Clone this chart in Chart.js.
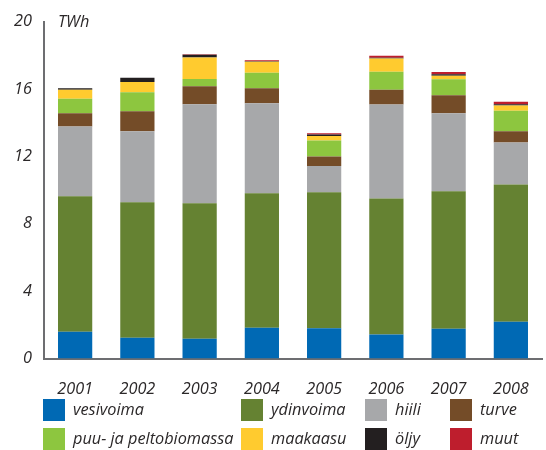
<!DOCTYPE html>
<html>
<head>
<meta charset="utf-8">
<script src="https://cdn.jsdelivr.net/npm/chart.js@4"></script>
<style>
  html, body { margin: 0; padding: 0; background: #fff; }
  #wrap { width: 546px; height: 450px; position: relative; }
</style>
</head>
<body>
<div id="wrap"><canvas id="energy-chart" width="546" height="450"></canvas></div>
<script>
// Chart data
const years = ['2001', '2002', '2003', '2004', '2005', '2006', '2007', '2008'];
const yTicks = [0, 4, 8, 12, 16, 20];
const unitLabel = 'TWh';

const seriesNames = ['vesivoima', 'ydinvoima', 'hiili', 'turve', 'puu- ja peltobiomassa', 'maakaasu', 'öljy', 'muut'];
const seriesColors = ['#0069b4', '#658232', '#a7a8aa', '#744c28', '#8dc63f', '#ffcb2f', '#231f20', '#be1e2d'];

const vesivoima = [1.59, 1.23, 1.17, 1.82, 1.79, 1.43, 1.76, 2.18];
const ydinvoima = [8.04, 8.05, 8.05, 7.99, 8.08, 8.08, 8.17, 8.16];
const hiili     = [4.15, 4.22, 5.88, 5.35, 1.56, 5.57, 4.64, 2.49];
const turve     = [0.79, 1.19, 1.07, 0.89, 0.57, 0.89, 1.06, 0.67];
const biomassa  = [0.86, 1.12, 0.43, 0.92, 0.95, 1.06, 0.95, 1.22];
const maakaasu  = [0.54, 0.61, 1.28, 0.65, 0.27, 0.79, 0.21, 0.30];
const oljy      = [0.08, 0.26, 0.16, 0.04, 0.08, 0.04, 0.09, 0.08];
const muut      = [0.00, 0.00, 0.03, 0.06, 0.08, 0.12, 0.13, 0.15];

const seriesValues = [vesivoima, ydinvoima, hiili, turve, biomassa, maakaasu, oljy, muut];

const fontFamily = '"Open Sans", "Noto Sans", sans-serif';
const fontSize = 16.3;
const textColor = '#2b2829';
const axisColor = '#6d6e71';

// Legend drawn below the axis, in four columns
const legendColumns = [43, 241, 365, 450];
const legendRows = [399, 428];

const legendPlugin = {
    id: 'gridLegend',
    afterDraw(chart) {
        const ctx = chart.ctx;
        ctx.save();
        ctx.font = 'italic ' + fontSize + 'px ' + fontFamily;
        ctx.textBaseline = 'middle';
        seriesNames.forEach((name, i) => {
            const x = legendColumns[i % 4];
            const y = legendRows[Math.floor(i / 4)];
            ctx.fillStyle = seriesColors[i];
            ctx.fillRect(x, y, 22, 22);
            ctx.fillStyle = textColor;
            ctx.fillText(name, x + 30, y + 11);
        });
        // unit label beside the top of the axis
        ctx.fillText(unitLabel, 58, chart.scales.y.getPixelForValue(20) + 1);
        ctx.restore();
    }
};

new Chart(document.getElementById('energy-chart'), {
    type: 'bar',
    data: {
        labels: years,
        datasets: seriesNames.map((name, i) => ({
            label: name,
            data: seriesValues[i],
            backgroundColor: seriesColors[i],
            borderWidth: 0,
            barPercentage: 0.55,
            categoryPercentage: 1
        }))
    },
    options: {
        responsive: false,
        animation: false,
        layout: { padding: { top: 20, right: 4, bottom: 0, left: 0 } },
        plugins: {
            legend: { display: false },
            tooltip: { enabled: false }
        },
        scales: {
            x: {
                stacked: true,
                grid: { display: false },
                border: { color: axisColor, width: 2 },
                ticks: {
                    color: textColor,
                    font: { family: fontFamily, size: fontSize, style: 'italic' },
                    padding: 13,
                    maxRotation: 0
                },
                afterFit(scale) { scale.height = 91.5; }
            },
            y: {
                stacked: true,
                min: 0,
                max: 20,
                afterBuildTicks(scale) { scale.ticks = yTicks.map(v => ({ value: v })); },
                grid: { display: false, drawTicks: false },
                border: { color: axisColor, width: 2 },
                ticks: {
                    color: textColor,
                    font: { family: fontFamily, size: fontSize, style: 'italic' },
                    padding: 12
                },
                afterFit(scale) { scale.width = 44; }
            }
        }
    },
    plugins: [legendPlugin]
});
</script>
</body>
</html>
